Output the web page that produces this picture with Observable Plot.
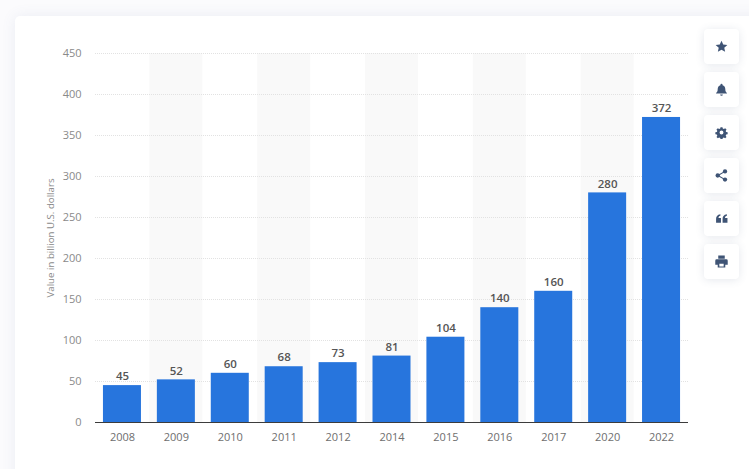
<!DOCTYPE html>
<html><head><meta charset="utf-8">
<script src="https://cdn.jsdelivr.net/npm/d3@7"></script>
<script src="https://cdn.jsdelivr.net/npm/@observablehq/plot@0.6"></script>
<style>
html,body{margin:0;padding:0;background:#fbfbfd;width:749px;height:469px;overflow:hidden}
#card{position:absolute;left:15px;top:16px;width:800px;height:520px;background:#fff;border-radius:5px;box-shadow:0 0 14px rgba(90,110,160,.10)}
#chart{position:absolute;left:0;top:0}
#chart svg{background:transparent;display:block}
.btn{position:absolute;left:704px;width:35px;height:35px;background:#fff;border-radius:4px;box-shadow:0 1px 8px rgba(70,90,130,.14);display:flex;align-items:center;justify-content:center}
.btn svg{width:13px;height:13px;fill:#3f5475}
</style></head><body>
<div id="card"></div><div id="chart"></div><div id="btns"></div>
<script>
const years = ["2008","2009","2010","2011","2012","2014","2015","2016","2017","2020","2022"];
const values = [45,52,60,68,73,81,104,140,160,280,372];
const stripeYears = ["2009","2011","2014","2016","2020"];
const yTicks = [0,50,100,150,200,250,300,350,400,450];
const yLabel = "Value in billion U.S. dollars";
const rows = years.map((year,i)=>({year,value:values[i]}));
const font = "'Open Sans', sans-serif";
const plot = Plot.plot({
  width:749,height:469,
  marginLeft:95,marginRight:61,marginTop:53,marginBottom:47,
  style:{fontFamily:font,background:"transparent",overflow:"visible"},
  x:{domain:years,paddingInner:0.295,paddingOuter:0.1475,align:0.5,round:false,label:null,tickSize:0},
  y:{domain:[0,450],ticks:yTicks,label:null},
  marks:[
    Plot.barY(stripeYears,{x:d=>d,y1:0,y2:450,fill:"#f9f9f9",insetLeft:-7.5,insetRight:-7.5}),
    Plot.ruleY(yTicks.filter(d=>d>0),{stroke:"#e2e2e2",strokeWidth:1,strokeDasharray:"1 1"}),
    Plot.barY(rows,{x:"year",y:"value",fill:"#2775dd"}),
    Plot.ruleY([0],{stroke:"#3c3c3c",strokeWidth:1.2}),
    Plot.text(rows,{x:"year",y:"value",text:d=>String(d.value),dy:-9,fontSize:11.5,fontWeight:600,fill:"#555555",letterSpacing:"0.6px"}),
    Plot.axisX({tickSize:0,tickPadding:11,fontSize:11,color:"#6e6e6e",label:null,stroke:"none",letterSpacing:"0.3px"}),
    Plot.axisY({ticks:yTicks,tickSize:0,tickPadding:14,fontSize:11,color:"#8a8a8a",label:null,letterSpacing:"0.3px"}),
    Plot.text([yLabel],{frameAnchor:"left",textAnchor:"middle",rotate:-90,dx:-45,fontSize:9.7,fill:"#8a8a8a",text:d=>d})
  ]
});
document.getElementById("chart").append(plot);
const icons = [
 '<path d="M12 1.5l3.2 7 7.6.8-5.7 5.1 1.6 7.5L12 18l-6.7 3.9 1.6-7.5L1.2 9.3l7.6-.8z"/>',
 '<path d="M12 1.5a2 2 0 0 1 2 2v.6c3 .8 5 3.4 5 6.9 0 4 1 5.6 3 7.5v1H2v-1c2-1.900 3-3.500 3-7.500 0-3.500 2-6.100 5-6.900v-.6a2 2 0 0 1 2-2zM9.500 21h5a2.500 2.500 0 0 1-5 0z"/>',
 '<path fill-rule="evenodd" d="M10 1h4l.6 3 2.300 1 2.600-1.700 2.800 2.800-1.700 2.600 1 2.300 3 .6v4l-3 .6-1 2.300 1.700 2.600-2.800 2.800-2.600-1.700-2.300 1-.6 3h-4l-.6-3-2.300-1-2.600 1.700-2.800-2.800 1.700-2.600-1-2.300-3-.6v-4l3-.6 1-2.300L1.700 6.100l2.800-2.800 2.600 1.700 2.300-1zM12 8a4 4 0 1 0 0 8 4 4 0 0 0 0-8z" transform="translate(1.200 1.200) scale(.9)"/>',
 '<circle cx="18.500" cy="4.500" r="4"/><circle cx="18.500" cy="19.500" r="4"/><circle cx="5" cy="12" r="4"/><path d="M5 11l13-7.500 1 1.800L6 12.800zM6 11.200l13 7.500-1 1.800L5 13z"/>',
 '<path d="M2 20v-7c0-5 2-8 8-9v3c-2.500.5-3.500 2-3.500 4H11v9zM14 20v-7c0-5 2-8 8-9v3c-2.500.5-3.500 2-3.500 4H23v9z"/>',
 '<path fill-rule="evenodd" d="M6 1h12v6H6zM3 8h18a2.500 2.500 0 0 1 2.500 2.500V18H19v5H5v-5H.5v-7.500A2.500 2.500 0 0 1 3 8zm5 8v5h8v-5z"/>'
];
const tops = [29,72,115,158,201,244];
icons.forEach((p,i)=>{
  const d=document.createElement("div");d.className="btn";d.style.top=tops[i]+"px";
  d.innerHTML='<svg viewBox="0 0 24 24">'+p+'</svg>';
  document.getElementById("btns").append(d);
});
</script></body></html>
